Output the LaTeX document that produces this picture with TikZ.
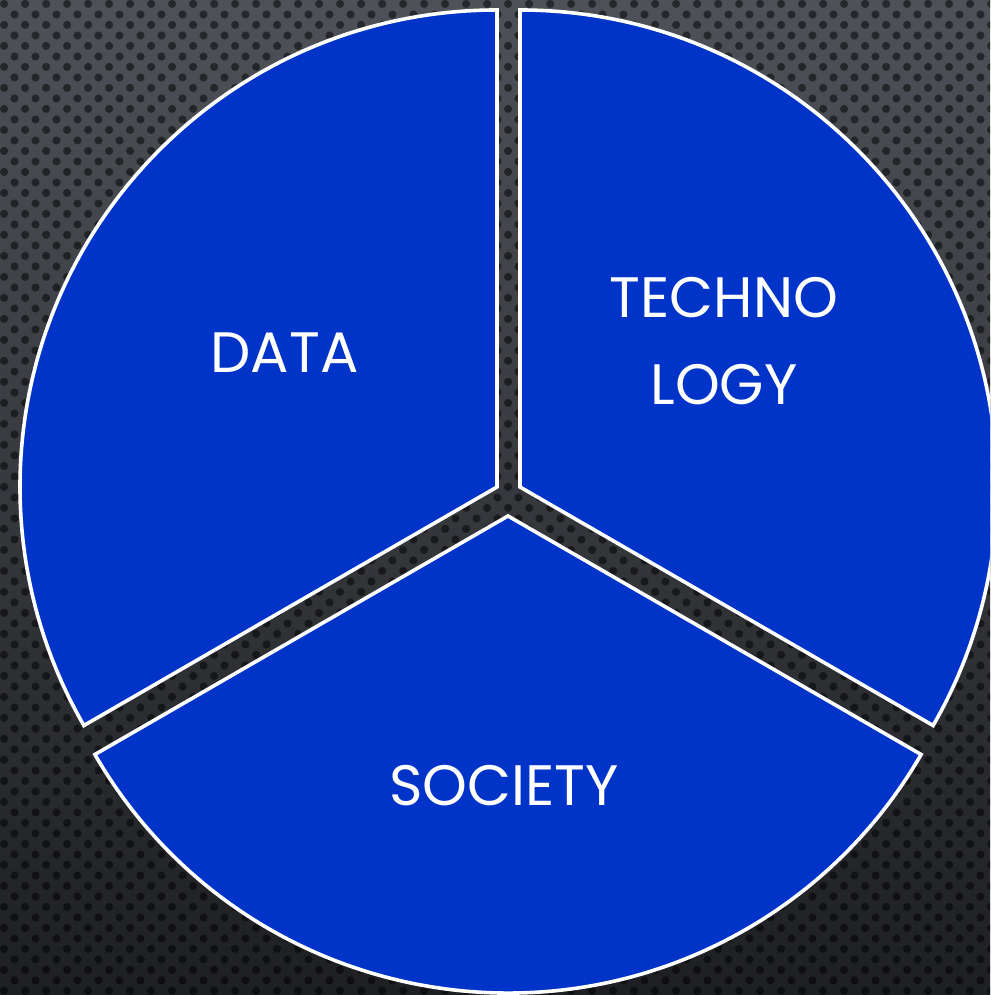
\documentclass[tikz,border=0pt]{standalone}
\usepackage{fontspec}
\setmainfont{Poppins}
\usetikzlibrary{patterns}
\definecolor{bgtop}{RGB}{78,81,87}
\definecolor{bgbot}{RGB}{30,31,34}
\definecolor{slice}{RGB}{0,51,200}
\pgfdeclarepatternformonly{cdots}{\pgfqpoint{0pt}{0pt}}{\pgfqpoint{21.3pt}{21.3pt}}{\pgfqpoint{21.3pt}{21.3pt}}{%
  \pgfpathcircle{\pgfqpoint{5.3pt}{5.3pt}}{4.2pt}%
  \pgfpathcircle{\pgfqpoint{16pt}{16pt}}{4.2pt}%
  \pgfusepath{fill}}
\tikzset{
  sector/.style={fill=slice, draw=white, line width=3.6pt, line join=miter},
  lbl/.style={text=white, font=\fontsize{57}{86}\selectfont, anchor=base, inner sep=0pt, align=center}
}
\begin{document}
\begin{tikzpicture}[x=1pt,y=1pt]
\useasboundingbox (0,0) rectangle (990,995);
\clip (0,0) rectangle (990,995);
\shade[top color=bgtop, bottom color=bgbot] (0,0) rectangle (990,995);
\fill[pattern=cdots, pattern color=black, opacity=0.5] (0,0) rectangle (990,995);
\coordinate (dA) at (497,508);
\coordinate (tA) at (520,508);
\coordinate (sA) at (508,479);
\draw[sector] (dA) -- ++(90:477) arc[start angle=90, end angle=210, radius=477] -- cycle;
\draw[sector] (tA) -- ++(90:477) arc[start angle=90, end angle=-30, radius=477] -- cycle;
\draw[sector] (sA) -- ++(210:477) arc[start angle=210, end angle=330, radius=477] -- cycle;
\node[lbl] (data) at (284.5,622) {DATA};
\node[lbl] (tech1) at (724,677) {TECHNO};
\node[lbl] (tech2) at (724,590) {LOGY};
\node[lbl] (soc) at (504,189) {SOCIETY};
\end{tikzpicture}
\end{document}
